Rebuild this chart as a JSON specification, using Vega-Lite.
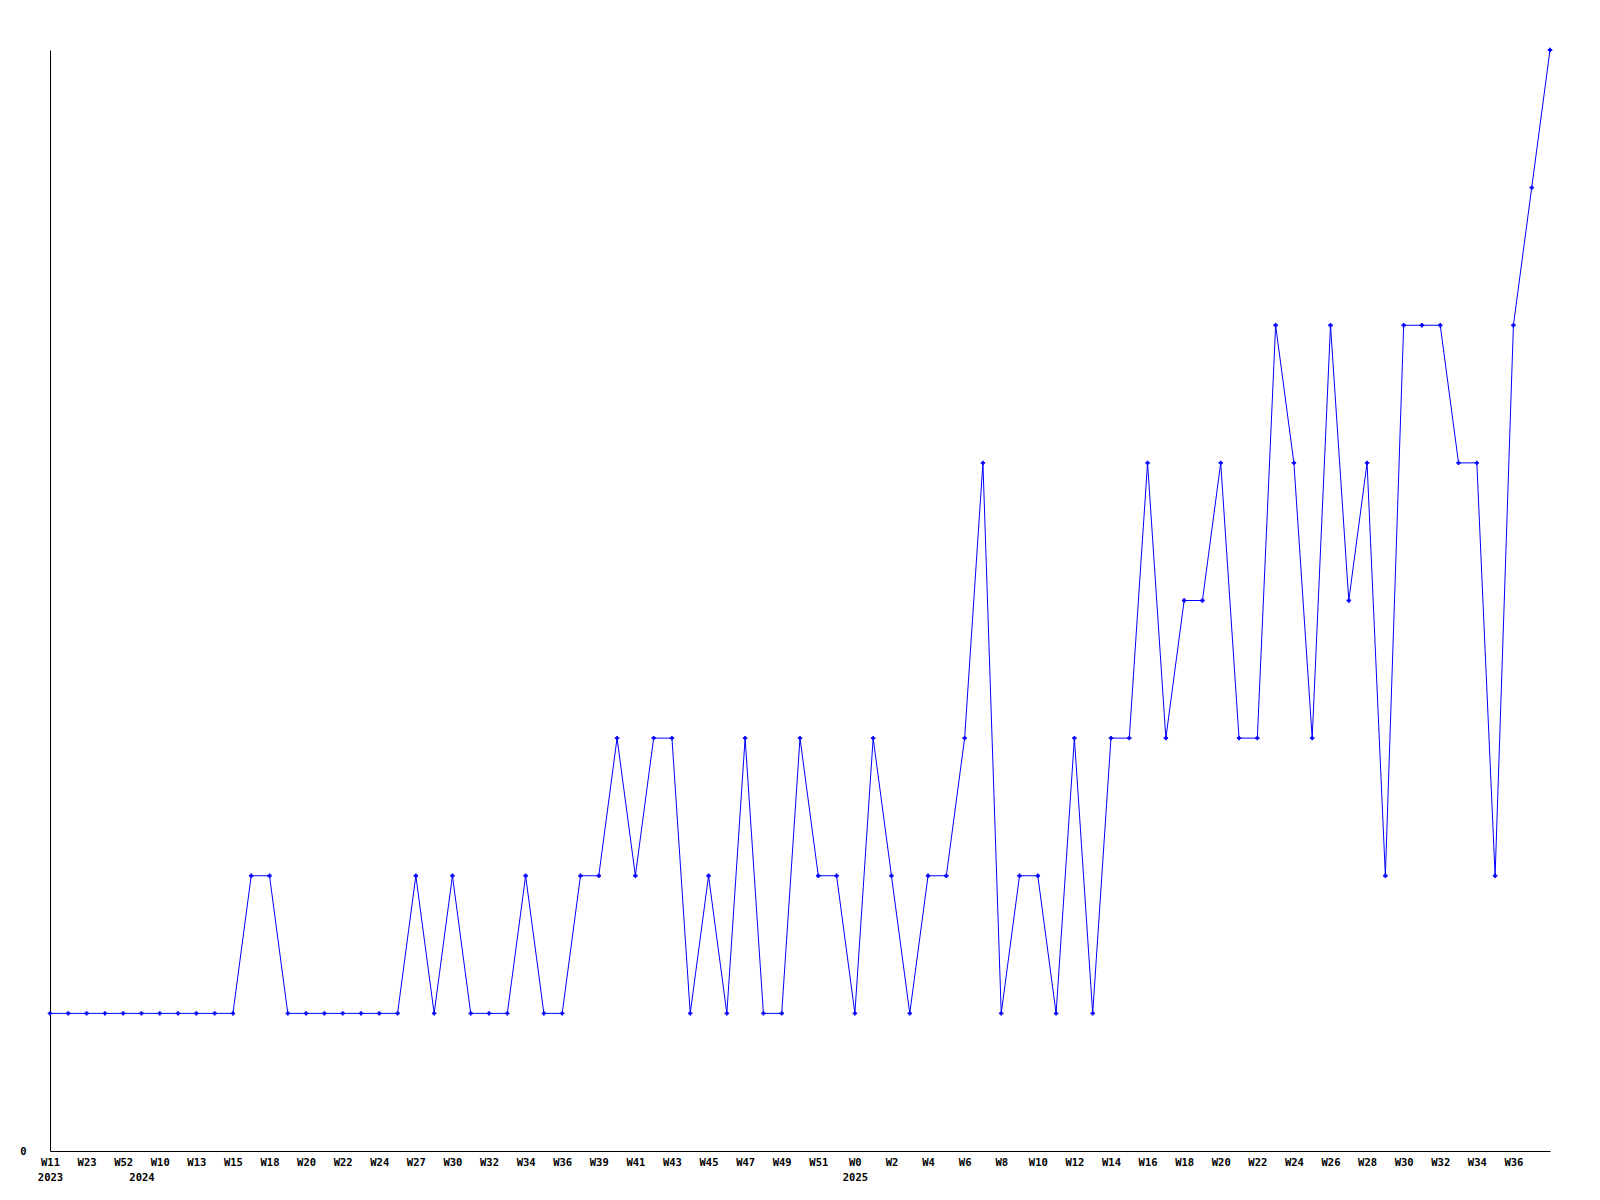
{
  "$schema": "https://vega.github.io/schema/vega-lite/v6.json",
  "autosize": "none",
  "width": 1500,
  "height": 1101,
  "padding": {"left": 50, "top": 50, "right": 50, "bottom": 49},
  "background": "white",
  "config": {"view": {"stroke": null}},
  "data": {"values": [
    {"week": "2023-W11", "count": 1},
    {"week": "2023-W17", "count": 1},
    {"week": "2023-W23", "count": 1},
    {"week": "2023-W40", "count": 1},
    {"week": "2023-W52", "count": 1},
    {"week": "2024-W2", "count": 1},
    {"week": "2024-W10", "count": 1},
    {"week": "2024-W12", "count": 1},
    {"week": "2024-W13", "count": 1},
    {"week": "2024-W14", "count": 1},
    {"week": "2024-W15", "count": 1},
    {"week": "2024-W16", "count": 2},
    {"week": "2024-W18", "count": 2},
    {"week": "2024-W19", "count": 1},
    {"week": "2024-W20", "count": 1},
    {"week": "2024-W21", "count": 1},
    {"week": "2024-W22", "count": 1},
    {"week": "2024-W23", "count": 1},
    {"week": "2024-W24", "count": 1},
    {"week": "2024-W26", "count": 1},
    {"week": "2024-W27", "count": 2},
    {"week": "2024-W29", "count": 1},
    {"week": "2024-W30", "count": 2},
    {"week": "2024-W31", "count": 1},
    {"week": "2024-W32", "count": 1},
    {"week": "2024-W33", "count": 1},
    {"week": "2024-W34", "count": 2},
    {"week": "2024-W35", "count": 1},
    {"week": "2024-W36", "count": 1},
    {"week": "2024-W38", "count": 2},
    {"week": "2024-W39", "count": 2},
    {"week": "2024-W40", "count": 3},
    {"week": "2024-W41", "count": 2},
    {"week": "2024-W42", "count": 3},
    {"week": "2024-W43", "count": 3},
    {"week": "2024-W44", "count": 1},
    {"week": "2024-W45", "count": 2},
    {"week": "2024-W46", "count": 1},
    {"week": "2024-W47", "count": 3},
    {"week": "2024-W48", "count": 1},
    {"week": "2024-W49", "count": 1},
    {"week": "2024-W50", "count": 3},
    {"week": "2024-W51", "count": 2},
    {"week": "2024-W52", "count": 2},
    {"week": "2025-W0", "count": 1},
    {"week": "2025-W1", "count": 3},
    {"week": "2025-W2", "count": 2},
    {"week": "2025-W3", "count": 1},
    {"week": "2025-W4", "count": 2},
    {"week": "2025-W5", "count": 2},
    {"week": "2025-W6", "count": 3},
    {"week": "2025-W7", "count": 5},
    {"week": "2025-W8", "count": 1},
    {"week": "2025-W9", "count": 2},
    {"week": "2025-W10", "count": 2},
    {"week": "2025-W11", "count": 1},
    {"week": "2025-W12", "count": 3},
    {"week": "2025-W13", "count": 1},
    {"week": "2025-W14", "count": 3},
    {"week": "2025-W15", "count": 3},
    {"week": "2025-W16", "count": 5},
    {"week": "2025-W17", "count": 3},
    {"week": "2025-W18", "count": 4},
    {"week": "2025-W19", "count": 4},
    {"week": "2025-W20", "count": 5},
    {"week": "2025-W21", "count": 3},
    {"week": "2025-W22", "count": 3},
    {"week": "2025-W23", "count": 6},
    {"week": "2025-W24", "count": 5},
    {"week": "2025-W25", "count": 3},
    {"week": "2025-W26", "count": 6},
    {"week": "2025-W27", "count": 4},
    {"week": "2025-W28", "count": 5},
    {"week": "2025-W29", "count": 2},
    {"week": "2025-W30", "count": 6},
    {"week": "2025-W31", "count": 6},
    {"week": "2025-W32", "count": 6},
    {"week": "2025-W33", "count": 5},
    {"week": "2025-W34", "count": 5},
    {"week": "2025-W35", "count": 2},
    {"week": "2025-W36", "count": 6},
    {"week": "2025-W37", "count": 7},
    {"week": "2025-W38", "count": 8}
  ]},
  "encoding": {
    "x": {
      "field": "week",
      "type": "ordinal",
      "sort": null,
      "scale": {"type": "point", "padding": 0},
      "axis": {
        "title": null,
        "values": ["2023-W11","2023-W23","2023-W52","2024-W2","2024-W10","2024-W13","2024-W15","2024-W18","2024-W20","2024-W22","2024-W24","2024-W27","2024-W30","2024-W32","2024-W34","2024-W36","2024-W39","2024-W41","2024-W43","2024-W45","2024-W47","2024-W49","2024-W51","2025-W0","2025-W2","2025-W4","2025-W6","2025-W8","2025-W10","2025-W12","2025-W14","2025-W16","2025-W18","2025-W20","2025-W22","2025-W24","2025-W26","2025-W28","2025-W30","2025-W32","2025-W34","2025-W36"],
        "labelExpr": "datum.value == '2024-W2' ? ['', '2024'] : (indexof(['2023-W11','2025-W0'], datum.value) >= 0 ? [slice(datum.value, 5), slice(datum.value, 0, 4)] : slice(datum.value, 5))",
        "labelAngle": 0,
        "labelAlign": "center",
        "labelBaseline": "top",
        "labelFont": "DejaVu Sans Mono",
        "labelFontWeight": "bold",
        "labelFontSize": 10.5,
        "labelColor": "black",
        "labelLineHeight": 15,
        "labelPadding": 6,
        "labelOverlap": false,
        "labelBound": false,
        "labelFlush": false,
        "ticks": false,
        "grid": false,
        "domainColor": "black",
        "domainWidth": 1
      }
    },
    "y": {
      "field": "count",
      "type": "quantitative",
      "scale": {"domain": [0, 8], "nice": false, "zero": true},
      "axis": {
        "title": null,
        "values": [0],
        "ticks": false,
        "grid": false,
        "labelFont": "DejaVu Sans Mono",
        "labelFontWeight": "bold",
        "labelFontSize": 10.5,
        "labelColor": "black",
        "labelPadding": 24,
        "labelBound": false,
        "domainColor": "black",
        "domainWidth": 1
      }
    }
  },
  "layer": [
    {"mark": {"type": "line", "color": "#0000ff", "strokeWidth": 1}},
    {"mark": {"type": "point", "shape": "cross", "filled": true, "size": 20, "color": "#0000ff", "opacity": 1}}
  ]
}
